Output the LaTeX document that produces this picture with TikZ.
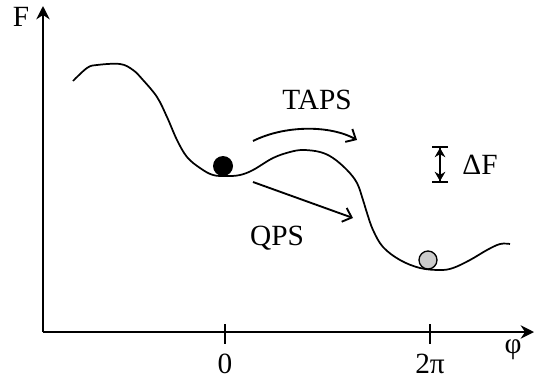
\documentclass[tikz,border=0pt]{standalone}
\usepackage{fontspec}
\setmainfont{Liberation Serif}
\usetikzlibrary{arrows.meta}

\begin{document}
\begin{tikzpicture}[x=0.75pt,y=-0.75pt,
    axis/.style={line width=1.5pt,-{Stealth[length=10pt,width=10pt]}},
    tick/.style={line width=1.5pt},
    path/.style={line width=1.4pt,-{Straight Barb[length=6pt,width=11pt]}},
    lbl/.style={font=\fontsize{22}{26}\selectfont,inner sep=0pt}]
    \useasboundingbox (0,0) rectangle (534,383);

    % axes
    \coordinate (O) at (43,332);
    \coordinate (ytip) at (43,6);
    \coordinate (xtip) at (534,332);
    \draw[axis] (O) -- (ytip);
    \draw[axis] (O) -- (xtip);
    \node[lbl] (F) at (21,17) {F};
    \node[lbl] (phi) at (513,350) {φ};

    \draw[tick] (225,324) -- (225,344);
    \draw[tick] (430,324) -- (430,344);
    \node[lbl] (zero) at (225,364) {0};
    \node[lbl] (twopi) at (430,364) {2π};

    % free energy curve
    \draw[line width=1.3pt] plot[smooth,tension=0.6] coordinates {
        (73,81) (87,68) (97,65) (120,64) (133,70) (143,80) (157,97)
        (167,117) (177,140) (187,157) (200,168) (213,175) (227,176)
        (240,175) (253,170) (273,158) (290,152) (303,150) (320,152)
        (333,158) (347,170) (357,183) (363,200) (367,213) (373,230)
        (383,247) (400,260) (420,268) (440,270) (453,268) (470,260)
        (487,250) (500,244) (510,244)};

    % states
    \fill (223,166) circle (10);
    \draw[line width=1pt,fill=black!20] (428,260) circle (9);

    % pathways
    \coordinate (taps0) at (253,141);
    \coordinate (taps1) at (357,140);
    \draw[path] (taps0) .. controls (285,125) and (330,125) .. (taps1);
    \node[lbl] (taps) at (317,100) {TAPS};

    \coordinate (qps0) at (253,182);
    \coordinate (qps1) at (353,218);
    \draw[path] (qps0) -- (qps1);
    \node[lbl] (qps) at (277,238) {QPS};

    % barrier height
    \coordinate (dF0) at (440,146);
    \coordinate (dF1) at (440,183);
    \draw[line width=1.4pt,{Bar[width=12pt]Stealth[length=7pt,width=8pt]}-{Stealth[length=7pt,width=8pt]Bar[width=12pt]}] (dF0) -- (dF1);
    \node[lbl] (dF) at (480,165) {ΔF};
\end{tikzpicture}
\end{document}
